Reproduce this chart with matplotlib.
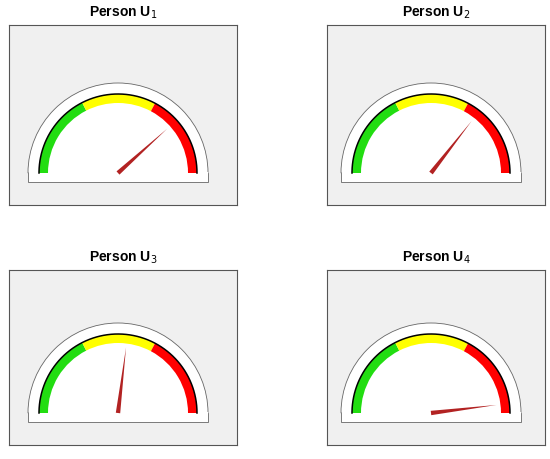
import numpy as np
import matplotlib
matplotlib.use("Agg")
import matplotlib.pyplot as plt
from matplotlib.patches import Wedge, Rectangle, Polygon

plt.rcParams["font.family"] = ["Liberation Sans", "DejaVu Sans"]

titles = ["U$_1$", "U$_2$", "U$_3$", "U$_4$"]
needle_deg = [42, 52, 83, 7]
zones = [(117, 180, "#22dd11"), (62, 117, "#ffff00"), (0, 62, "#ff0000")]

# panel boxes in pixel coords (left, top, width, height)
boxes = [(9, 25, 228, 180), (327, 25, 218, 180), (9, 270, 228, 175), (327, 270, 218, 175)]

W, H = 550, 459
fig = plt.figure(figsize=(5.5, 4.59), dpi=100)
for (x, y, w, h), t, ang in zip(boxes, titles, needle_deg):
    ax = fig.add_axes([x / W, 1 - (y + h) / H, w / W, h / H])
    ax.set_facecolor("#f0f0f0")
    ax.set_xlim(0, w); ax.set_ylim(0, h)
    ax.set_xticks([]); ax.set_yticks([])
    for s in ax.spines.values():
        s.set_color("#555555"); s.set_linewidth(0.8)
    cx, cy = w / 2 - 5, 32
    ax.add_patch(Wedge((cx, cy), 90, 0, 180, facecolor="white", edgecolor="#666666", lw=0.6))
    ax.add_patch(Rectangle((cx - 90, cy - 9), 180, 9, facecolor="white", edgecolor="#666666", lw=0.6))
    ax.add_patch(Rectangle((cx - 89.5, cy - 1), 179, 2, facecolor="white", edgecolor="none"))
    for a0, a1, c in zones:
        ax.add_patch(Wedge((cx, cy), 79, a0, a1, width=9, facecolor=c, edgecolor="none"))
    th = np.linspace(0, np.pi, 200)
    ax.plot(cx + 79 * np.cos(th), cy + 79 * np.sin(th), color="black", lw=1.1)
    r = np.deg2rad(ang)
    L = 66
    px, py = -np.sin(r) * 2.2, np.cos(r) * 2.2
    ax.add_patch(Polygon([(cx + px, cy + py), (cx + L * np.cos(r), cy + L * np.sin(r)),
                          (cx - px, cy - py)], closed=True, facecolor="#b22222", edgecolor="none"))
    fig.text((x + w / 2) / W, 1 - (y - 12) / H, "Person " + t, ha="center", va="center",
             fontsize=10, fontweight="bold")

fig.savefig("out.png", dpi=100)
